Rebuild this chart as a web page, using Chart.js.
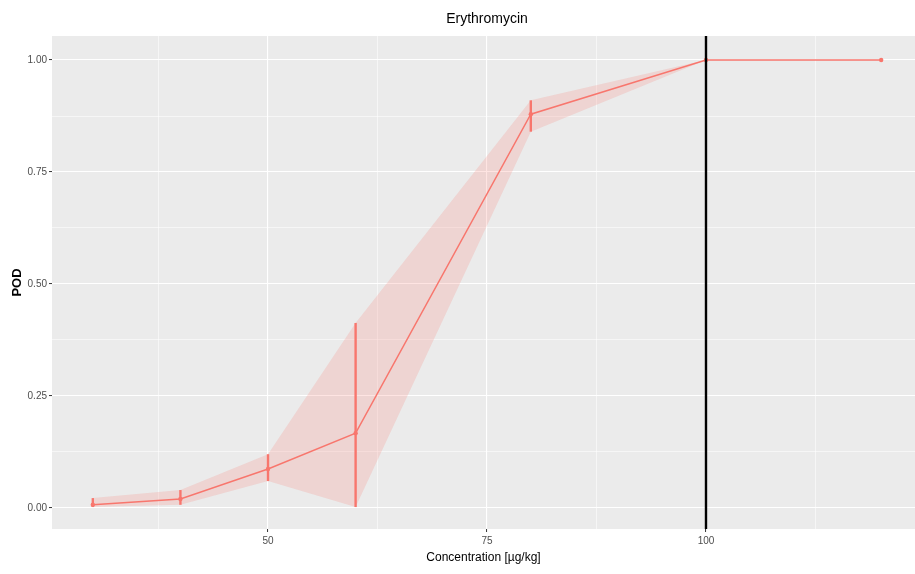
<!DOCTYPE html>
<html>
<head>
<meta charset="utf-8">
<title>Erythromycin</title>
<script src="https://cdn.jsdelivr.net/npm/chart.js@4.4.1/dist/chart.umd.min.js"></script>
<style>
  html, body { margin: 0; padding: 0; background: #ffffff; }
  #podChart { display: block; }
</style>
</head>
<body>
<canvas id="podChart" width="915" height="574"></canvas>
<script>
// POD curve for Erythromycin: observed rate per spiking level with its confidence band
const concentrations = [30, 40, 50, 60, 80, 100, 120];
const podValues = [0.007, 0.02, 0.087, 0.167, 0.879, 1.0, 1.0];
const podLower = [0.002, 0.007, 0.06, 0.002, 0.84, 1.0, 1.0];
const podUpper = [0.022, 0.04, 0.12, 0.413, 0.91, 1.0, 1.0];
const referenceLevel = 100;

const xTicks = [37.5, 50, 62.5, 75, 87.5, 100, 112.5];
const yTicks = [0, 0.125, 0.25, 0.375, 0.5, 0.625, 0.75, 0.875, 1];
const xLabels = [50, 75, 100];
const yLabels = [0, 0.25, 0.5, 0.75, 1];

const red = '#F8766D';
const textFont = '"Liberation Sans", Arial, sans-serif';

const toPoints = (ys) => concentrations.map((c, i) => ({x: c, y: ys[i]}));
const isMajor = (list, v) => list.some(m => Math.abs(m - v) < 1e-9);

// let the panel run all the way to the right edge of the canvas
const panelEdges = {
    id: 'panelEdges',
    afterLayout(chart) {
        const {x, y} = chart.scales;
        const a = chart.chartArea;
        a.left = 52;
        a.right = chart.width;
        a.width = a.right - a.left;
        x.left = a.left;
        x.right = a.right;
        x.width = a.width;
        x.configure();
        y.right = a.left;
        y.width = a.left - y.left;
        y.configure();
    }
};

// grey panel behind the grid
const panelBackground = {
    id: 'panelBackground',
    beforeDraw(chart) {
        const {ctx, chartArea: a} = chart;
        ctx.save();
        ctx.fillStyle = '#EBEBEB';
        ctx.fillRect(a.left, a.top, a.right - a.left, a.bottom - a.top);
        ctx.restore();
    }
};

// vertical bars from lower to upper bound at each level
const errorBars = {
    id: 'errorBars',
    afterDatasetsDraw(chart) {
        const {ctx, scales: {x, y}} = chart;
        ctx.save();
        ctx.strokeStyle = red;
        ctx.lineWidth = 2.4;
        concentrations.forEach((c, i) => {
            if (podUpper[i] - podLower[i] < 1e-6) return;
            const px = x.getPixelForValue(c);
            ctx.beginPath();
            ctx.moveTo(px, y.getPixelForValue(podLower[i]));
            ctx.lineTo(px, y.getPixelForValue(podUpper[i]));
            ctx.stroke();
        });
        ctx.restore();
    }
};

const plotTitle = {
    id: 'plotTitle',
    afterDraw(chart) {
        const {ctx} = chart;
        ctx.save();
        ctx.font = '14px ' + textFont;
        ctx.fillStyle = '#000000';
        ctx.textAlign = 'center';
        ctx.textBaseline = 'middle';
        ctx.fillText('Erythromycin', 487, 19);
        ctx.restore();
    }
};

const gridColor = '#FFFFFF';

new Chart(document.getElementById('podChart'), {
    type: 'line',
    data: {
        datasets: [
            {
                label: 'lower',
                data: toPoints(podLower),
                borderWidth: 0,
                pointRadius: 0,
                fill: false,
                order: 3
            },
            {
                label: 'upper',
                data: toPoints(podUpper),
                borderWidth: 0,
                pointRadius: 0,
                backgroundColor: 'rgba(248,118,109,0.2)',
                fill: '-1',
                order: 3
            },
            {
                label: 'POD',
                data: toPoints(podValues),
                borderColor: red,
                borderWidth: 1.4,
                pointRadius: 2.2,
                pointBackgroundColor: red,
                pointBorderWidth: 0,
                fill: false,
                tension: 0,
                order: 2
            },
            {
                label: 'reference',
                data: [{x: referenceLevel, y: -0.05}, {x: referenceLevel, y: 1.06}],
                borderColor: '#000000',
                borderWidth: 2.4,
                pointRadius: 0,
                fill: false,
                order: 0
            }
        ]
    },
    options: {
        responsive: false,
        animation: false,
        devicePixelRatio: 1,
        layout: {padding: {top: 36, right: 0, bottom: 0, left: 0}},
        plugins: {
            legend: {display: false},
            title: {display: false},
            tooltip: {enabled: false}
        },
        scales: {
            x: {
                type: 'linear',
                min: 25.34,
                max: 123.86,
                afterBuildTicks: (s) => { s.ticks = xTicks.map(v => ({value: v})); },
                afterFit: (s) => { s.height = 45; s.paddingLeft = 0; s.paddingRight = 0; },
                border: {display: false},
                grid: {
                    color: gridColor,
                    lineWidth: (c) => isMajor(xLabels, c.tick.value) ? 1.1 : 0.55,
                    tickColor: (c) => isMajor(xLabels, c.tick.value) ? '#333333' : 'rgba(0,0,0,0)',
                    tickWidth: 1,
                    tickLength: 3
                },
                ticks: {
                    autoSkip: false,
                    maxRotation: 0,
                    padding: 3,
                    color: '#4D4D4D',
                    font: {family: textFont, size: 10},
                    callback: (v) => isMajor(xLabels, v) ? String(v) : ''
                },
                title: {
                    display: true,
                    text: 'Concentration [µg/kg]',
                    color: '#000000',
                    font: {family: textFont, size: 12},
                    padding: {top: 0, bottom: 9}
                }
            },
            y: {
                type: 'linear',
                min: -0.047,
                max: 1.0536,
                afterBuildTicks: (s) => { s.ticks = yTicks.map(v => ({value: v})); },
                afterFit: (s) => { s.width = 52; },
                border: {display: false},
                grid: {
                    color: gridColor,
                    lineWidth: (c) => isMajor(yLabels, c.tick.value) ? 1.1 : 0.55,
                    tickColor: (c) => isMajor(yLabels, c.tick.value) ? '#333333' : 'rgba(0,0,0,0)',
                    tickWidth: 1,
                    tickLength: 3
                },
                ticks: {
                    autoSkip: false,
                    padding: 2,
                    color: '#4D4D4D',
                    font: {family: textFont, size: 10},
                    callback: (v) => isMajor(yLabels, v) ? v.toFixed(2) : ''
                },
                title: {
                    display: true,
                    text: 'POD',
                    color: '#000000',
                    font: {family: textFont, size: 13, weight: 'bold'},
                    padding: {top: 10, bottom: 0}
                }
            }
        }
    },
    plugins: [panelEdges, panelBackground, errorBars, plotTitle]
});
</script>
</body>
</html>
